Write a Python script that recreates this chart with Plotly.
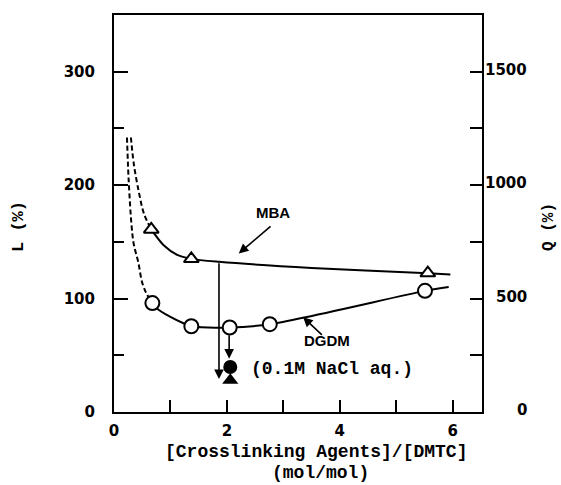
import plotly.graph_objects as go

# ---- data ----
mba_x = [0.66, 1.37, 5.56]
mba_L = [161, 135, 122.5]
dgdm_x = [0.68, 1.37, 2.05, 2.76, 5.51]
dgdm_L = [96, 75.6, 74.5, 77.4, 106.8]

# traced solid curves through the points
mba_curve_x = [0.66, 0.88, 1.12, 1.37, 1.86, 3.5, 5.56, 5.96]
mba_curve_L = [161, 147, 138.5, 135, 132.4, 127, 122.4, 121.3]
dgdm_curve_x = [0.68, 0.76, 1.0, 1.24, 1.37, 2.05, 2.76, 5.51, 5.93]
dgdm_curve_L = [96, 91.3, 83.8, 78, 75.6, 74.5, 77.4, 106.8, 110.3]

# dashed extrapolations
dash_mba_x = [0.30, 0.35, 0.44, 0.53, 0.66]
dash_mba_L = [242, 219, 194, 175, 161]
dash_dgdm_x = [0.23, 0.25, 0.27, 0.31, 0.35, 0.43, 0.50, 0.58, 0.68]
dash_dgdm_L = [242, 215, 195, 165, 148, 132, 114, 104, 96]

# 0.1M NaCl aq. results
nacl_x = [2.06]
nacl_dgdm_L = [39.7]
nacl_mba_L = [28]

x_ticks = [0, 1, 2, 3, 4, 5, 6]
x_ticktext = ["0", "", "2", "", "4", "", "6"]
L_ticks = [0, 100, 200, 300]
Q_ticks = [0, 500, 1000, 1500]

W, H = 561, 485
ML, MR, MT, MB = 114, 79, 15, 73
PW, PH = W - ML - MR, H - MT - MB


def px(xp):
    return (xp - ML) / PW


def py(yp):
    return (H - MB - yp) / PH


fig = go.Figure()

dash_line = dict(color="black", width=2, dash="5px,3px", shape="spline")
fig.add_trace(go.Scatter(x=dash_mba_x, y=dash_mba_L, mode="lines", line=dash_line, showlegend=False))
fig.add_trace(go.Scatter(x=dash_dgdm_x, y=dash_dgdm_L, mode="lines", line=dash_line, showlegend=False))
fig.add_trace(go.Scatter(x=mba_curve_x, y=mba_curve_L, mode="lines", line=dict(color="black", width=2, shape="spline", smoothing=0.8), showlegend=False))
fig.add_trace(go.Scatter(x=dgdm_curve_x, y=dgdm_curve_L, mode="lines", line=dict(color="black", width=2, shape="spline", smoothing=0.8), showlegend=False))

fig.add_trace(go.Scatter(x=mba_x, y=mba_L, mode="markers", marker=dict(symbol="triangle-up", size=13, color="white", line=dict(color="black", width=2)), showlegend=False))
fig.add_trace(go.Scatter(x=dgdm_x, y=dgdm_L, mode="markers", marker=dict(symbol="circle", size=14, color="white", line=dict(color="black", width=2)), showlegend=False))
fig.add_trace(go.Scatter(x=nacl_x, y=nacl_mba_L, mode="markers", marker=dict(symbol="triangle-up", size=14, color="black"), showlegend=False))
fig.add_trace(go.Scatter(x=nacl_x, y=nacl_dgdm_L, mode="markers", marker=dict(symbol="circle", size=14, color="black"), showlegend=False))

# invisible trace on the right axis
fig.add_trace(go.Scatter(x=[0], y=[0], yaxis="y2", mode="markers", marker=dict(opacity=0), showlegend=False, hoverinfo="skip"))

num_font = dict(family="DejaVu Sans", size=15, color="black", weight="bold")
mono = dict(family="Liberation Mono", size=18, color="black", weight="bold")
sans = dict(family="Liberation Sans", size=15, color="black", weight="bold")

fig.update_layout(
    width=W, height=H,
    margin=dict(l=ML, r=MR, t=MT, b=MB),
    paper_bgcolor="white", plot_bgcolor="white",
    xaxis=dict(range=[0, 6.52], tickvals=x_ticks, ticktext=x_ticktext, ticks="inside", ticklen=12,
               tickwidth=2, tickcolor="black", showgrid=False, zeroline=False, showline=True,
               linewidth=2, linecolor="black", mirror=True, tickfont=num_font, ticklabelstandoff=4),
    yaxis=dict(range=[0, 350], tickvals=L_ticks, ticks="inside", ticklen=14, tickwidth=2,
               tickcolor="black", showgrid=False, zeroline=False, showline=True, linewidth=2,
               linecolor="black", mirror=True, tickfont=num_font, ticklabelstandoff=14,
               minor=dict(ticks="inside", ticklen=10, tickwidth=2, tickcolor="black", dtick=50, tick0=0, showgrid=False)),
    yaxis2=dict(range=[0, 1750], overlaying="y", side="right", dtick=250, tick0=0, ticks="inside",
                ticklen=12, tickwidth=2, tickcolor="black", showticklabels=False, showgrid=False,
                zeroline=False, showline=False),
)

ann = []
# right tick labels (right aligned like the original)
for q in Q_ticks:
    ann.append(dict(x=1, xref="paper", xanchor="right", xshift=47, y=q, yref="y2", yanchor="middle",
                    yshift=2, text=str(q), showarrow=False, font=num_font))

# axis titles
ann.append(dict(x=px(315.5), y=py(452), xref="paper", yref="paper", text="[Crosslinking Agents]/[DMTC]",
                showarrow=False, font=mono, xanchor="center", yanchor="middle"))
ann.append(dict(x=px(320), y=py(473), xref="paper", yref="paper", text="(mol/mol)",
                showarrow=False, font=mono, xanchor="center", yanchor="middle"))
ann.append(dict(x=px(18), y=py(227), xref="paper", yref="paper", text="L (%)", textangle=-90,
                showarrow=False, font=dict(family="Liberation Mono", size=17, color="black", weight="bold"),
                xanchor="center", yanchor="middle"))
ann.append(dict(x=px(549), y=py(227), xref="paper", yref="paper", text="Q (%)", textangle=-90,
                showarrow=False, font=dict(family="Liberation Mono", size=16, color="black", weight="bold"),
                xanchor="center", yanchor="middle"))

# labels
ann.append(dict(x=2.82, y=175.6, xref="x", yref="y", text="MBA", showarrow=False, font=sans))
ann.append(dict(x=3.77, y=62.7, xref="x", yref="y", text="DGDM", showarrow=False, font=sans))
ann.append(dict(x=2.386, y=38.3, xref="x", yref="y", text="(0.1M NaCl aq.)", showarrow=False,
                font=mono, xanchor="left", yanchor="middle"))

# arrows
arrow = dict(showarrow=True, arrowhead=2, arrowsize=1.2, arrowwidth=1.6, arrowcolor="black",
             axref="x", ayref="y", xref="x", yref="y", text="")
ann.append(dict(x=1.86, y=29, ax=1.86, ay=132.4, **arrow))
ann.append(dict(x=2.04, y=47, ax=2.04, ay=69, **arrow))
ann.append(dict(x=2.21, y=139.8, ax=2.80, ay=164.8, **arrow))
ann.append(dict(x=3.35, y=83.6, ax=3.71, ay=66.8, **arrow))

fig.update_layout(annotations=ann)
fig.write_html("out.html")
